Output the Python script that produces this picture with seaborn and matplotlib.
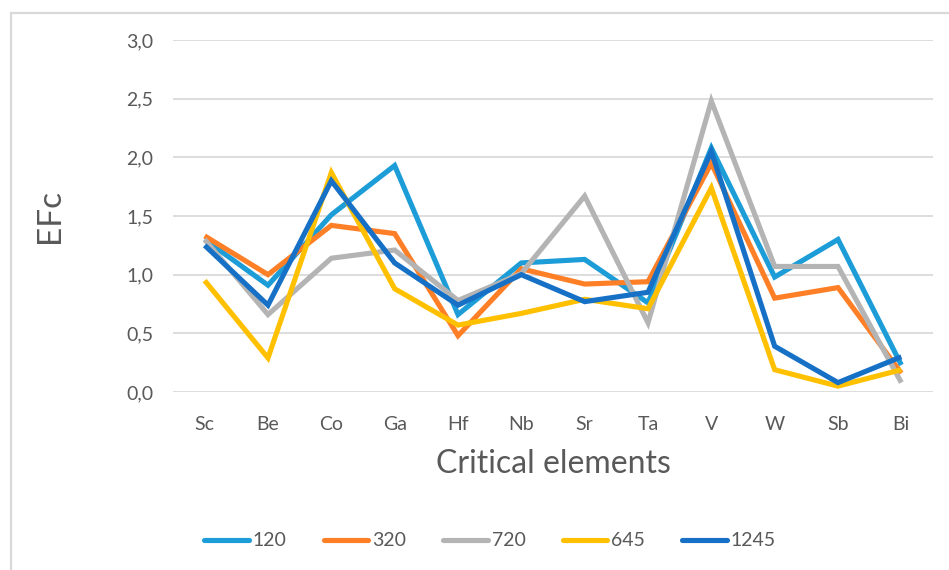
import matplotlib
matplotlib.use("Agg")
import matplotlib.pyplot as plt
from matplotlib.patches import Rectangle
import seaborn as sns
import pandas as pd

elements = ["Sc", "Be", "Co", "Ga", "Hf", "Nb", "Sr", "Ta", "V", "W", "Sb", "Bi"]
series_names = ["120", "320", "720", "645", "1245"]
efc_120 = [1.30, 0.91, 1.51, 1.93, 0.66, 1.10, 1.13, 0.76, 2.08, 0.98, 1.30, 0.23]
efc_320 = [1.33, 1.00, 1.42, 1.35, 0.48, 1.05, 0.92, 0.94, 1.95, 0.80, 0.89, 0.16]
efc_720 = [1.30, 0.66, 1.14, 1.21, 0.78, 1.01, 1.67, 0.59, 2.48, 1.07, 1.07, 0.08]
efc_645 = [0.95, 0.29, 1.87, 0.88, 0.57, 0.67, 0.79, 0.71, 1.74, 0.19, 0.05, 0.19]
efc_1245 = [1.25, 0.74, 1.80, 1.10, 0.74, 1.00, 0.77, 0.85, 2.05, 0.39, 0.08, 0.30]
colors = ["#1C9DD8", "#FF7F27", "#B4B4B4", "#FFC000", "#1570C6"]
y_ticks = [0.0, 0.5, 1.0, 1.5, 2.0, 2.5, 3.0]

values = [efc_120, efc_320, efc_720, efc_645, efc_1245]
rows = []
for name, vals in zip(series_names, values):
    for i, (el, v) in enumerate(zip(elements, vals)):
        rows.append({"pos": i, "element": el, "series": name, "EFc": v})
df = pd.DataFrame(rows)

sns.set_theme(style="white")
plt.rcParams["font.family"] = ["Lato", "DejaVu Sans"]

fig = plt.figure(figsize=(9.49, 5.70), dpi=100)
ax = fig.add_axes([173 / 949, 178 / 570, 760 / 949, 352 / 570])

sns.lineplot(data=df, x="pos", y="EFc", hue="series", hue_order=series_names,
             palette=colors, linewidth=3.7, sort=False, legend=False, ax=ax,
             solid_joinstyle="miter", solid_capstyle="butt")

ax.set_xlim(-0.5, 11.5)
ax.set_ylim(0, 3.0)
ax.set_yticks(y_ticks)
ax.set_yticklabels([f"{t:.1f}".replace(".", ",") for t in y_ticks])
ax.set_xticks(range(len(elements)))
ax.set_xticklabels(elements)
ax.tick_params(axis="both", length=0, labelsize=14, labelcolor="#595959")
ax.tick_params(axis="y", pad=14)
ax.tick_params(axis="x", pad=17)
ax.yaxis.grid(True, color="#DDDDDD", linewidth=1.4)
ax.set_axisbelow(True)
for s in ax.spines.values():
    s.set_visible(False)

ax.set_xlabel("Critical elements", fontsize=23, color="#595959", labelpad=12)
ax.set_ylabel("EFc", fontsize=24, color="#595959", labelpad=44)

handles = [plt.Line2D([0], [0], color=c, linewidth=3.7, solid_capstyle="round")
           for c in colors]
fig.legend(handles, series_names, loc="center", bbox_to_anchor=(490 / 949, 1 - 541 / 570),
           ncol=5, frameon=False, fontsize=14, handlelength=2.3, handletextpad=0.2,
           columnspacing=1.9, labelcolor="#595959")

fig.patches.append(Rectangle((11 / 949, -0.1), 1.2, 1 - 13 / 570 + 0.1,
                             transform=fig.transFigure, fill=False,
                             edgecolor="#D9D9D9", linewidth=1.6))

fig.savefig("out.png", dpi=100, facecolor="white")
